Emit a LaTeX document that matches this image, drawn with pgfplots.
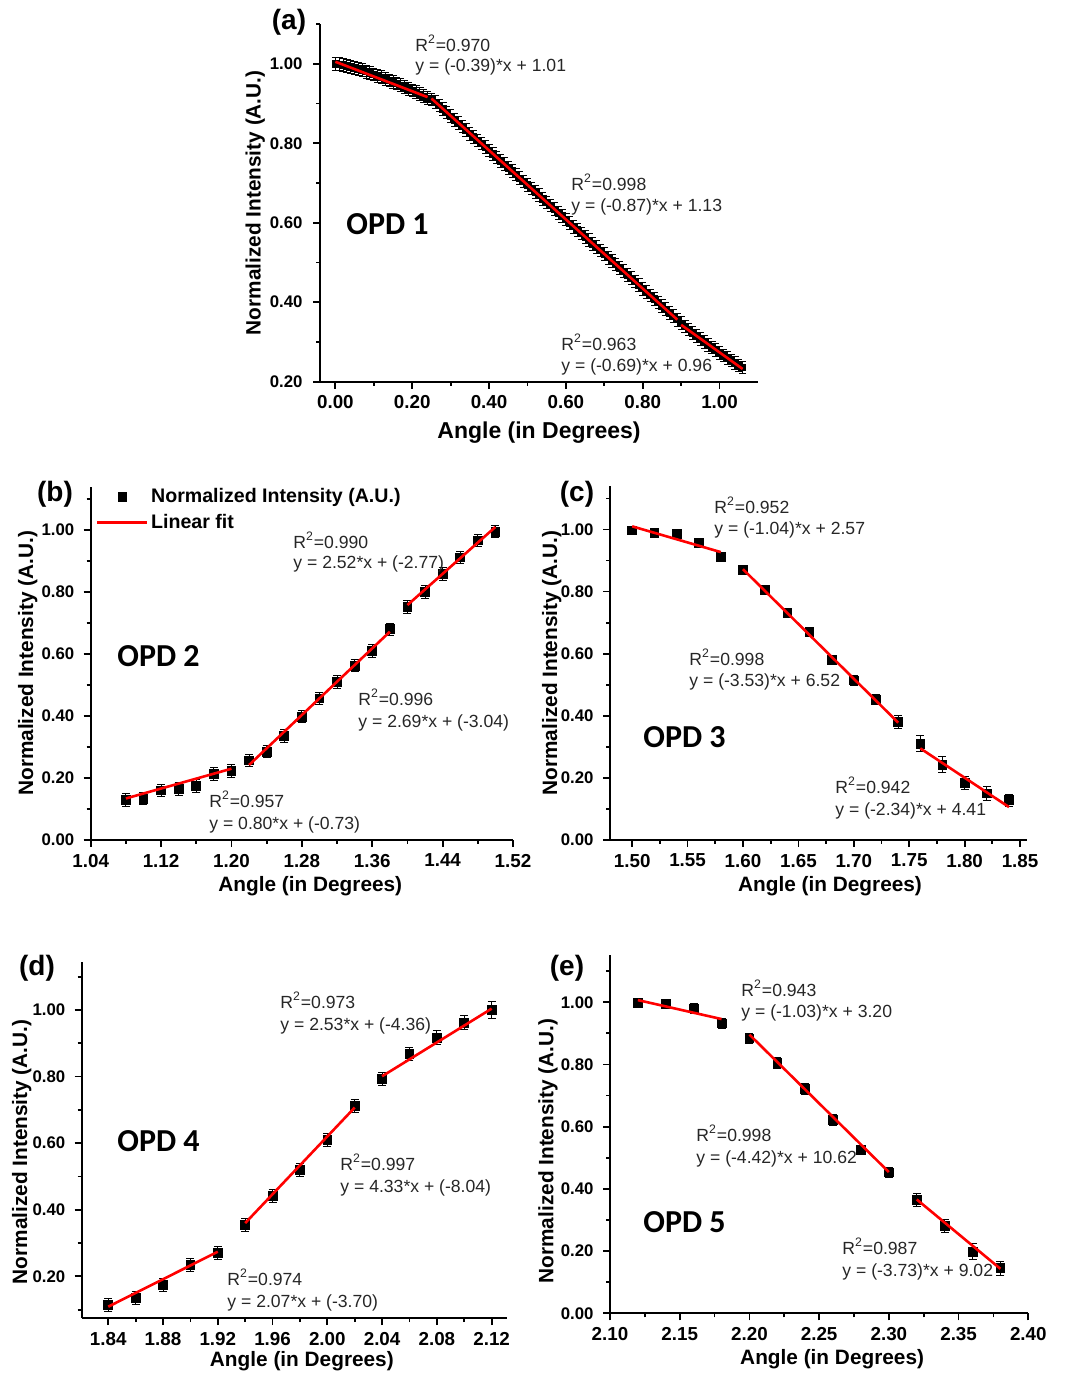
\documentclass[border=0pt]{standalone}
\usepackage{pgfplots}
\pgfplotsset{compat=1.18}
\usepackage{fontspec}
\setmainfont{Liberation Sans}
\newfontfamily\opdfont{Carlito}

\pgfplotsset{
 opd/.style={scale only axis, axis lines*=left, axis line style={line width=1.1pt, black},
   tick align=outside, major tick length=3.5pt, minor tick length=2pt,
   every tick/.style={black, line width=0.9pt},
   /pgf/number format/assume math mode=true,
   xticklabel style={font=\bfseries\fontsize{9.4}{11}\selectfont, /pgf/number format/fixed, /pgf/number format/fixed zerofill, /pgf/number format/precision=2},
   yticklabel style={font=\bfseries\fontsize{8.4}{10}\selectfont, xshift=-1.2pt, /pgf/number format/fixed, /pgf/number format/fixed zerofill, /pgf/number format/precision=2},
   label style={font=\bfseries\fontsize{10.4}{12}\selectfont},
   anchor=south west, clip=false},
 over/.style={scale only axis, hide axis, anchor=south west, clip=false},
 pa/.style={at={(160pt,496.15pt)}, width=219pt, height=178.85pt, xmin=-0.04, xmax=1.10, ymin=0.20, ymax=1.10},
 pb/.style={at={(45.35pt,267pt)}, width=211.15pt, height=176.65pt, xmin=1.04, xmax=1.52, ymin=0, ymax=1.14},
 pc/.style={at={(305pt,267pt)}, width=208.35pt, height=177pt, xmin=1.48, xmax=1.856, ymin=0, ymax=1.14},
 pd/.style={at={(40.85pt,28pt)}, width=212.5pt, height=178.15pt, xmin=1.8206, xmax=2.131, ymin=0.075, ymax=1.145},
 pe/.style={at={(305pt,30.35pt)}, width=209.15pt, height=179.15pt, xmin=2.10, xmax=2.40, ymin=0, ymax=1.152},
 datapl/.style={only marks, mark=square*, mark size=2.2pt, black, mark options={solid, fill=black},
   error bars/y dir=both,
   error bars/error bar style={line width=0.5pt, black},
   error bars/error mark options={rotate=90, mark size=2pt, line width=0.5pt, black}},
 fitpl/.style={red, line width=1.3pt, no marks, unbounded coords=jump},
 legsq/.style={legend image code/.code={\draw[mark repeat=2,mark phase=2,##1] plot coordinates {(0pt,0pt) (12.5pt,0pt) (25pt,0pt)};}},
 legln/.style={legend image code/.code={\draw[##1] (0pt,0pt) -- (25pt,0pt);}},
}
\tikzset{ann/.style={anchor=west, inner sep=0pt, text=black!85, font=\fontsize{8.8}{10}\selectfont}}

\begin{document}
\begin{tikzpicture}
\path[use as bounding box] (0,0) rectangle (539pt,687pt);

% ---------------- (a)
\begin{axis}[opd, pa,
  xtick={0,0.2,0.4,0.6,0.8,1.0}, minor xtick={0.1,0.3,0.5,0.7,0.9},
  ytick={0.2,0.4,0.6,0.8,1.0}, minor ytick={0.3,0.5,0.7,0.9,1.1},
  yticklabel style={xshift=-0.5pt},
  xlabel={Angle (in Degrees)}, ylabel={Normalized Intensity (A.U.)},
  xlabel style={at={(axis description cs:0.5,-0.141)}, anchor=center, font=\bfseries\fontsize{11.5}{13}\selectfont},
  ylabel style={at={(axis description cs:-0.148,0.5)}, anchor=center},
]
\addplot[datapl, mark size=1.6pt, error bars/y fixed=0.016,
  error bars/error mark options={rotate=90, mark size=1.8pt, line width=0.5pt, black}] table {
x y
0.00 1.000
0.01 0.999
0.02 0.997
0.03 0.995
0.04 0.992
0.05 0.990
0.06 0.987
0.07 0.984
0.08 0.980
0.09 0.977
0.10 0.973
0.11 0.969
0.12 0.966
0.13 0.962
0.14 0.958
0.15 0.954
0.16 0.950
0.17 0.946
0.18 0.942
0.19 0.937
0.20 0.933
0.21 0.928
0.22 0.923
0.23 0.918
0.24 0.913
0.25 0.910
0.26 0.903
0.27 0.895
0.28 0.886
0.29 0.877
0.30 0.868
0.31 0.859
0.32 0.850
0.33 0.842
0.34 0.833
0.35 0.824
0.36 0.816
0.37 0.807
0.38 0.799
0.39 0.790
0.40 0.782
0.41 0.773
0.42 0.764
0.43 0.756
0.44 0.747
0.45 0.738
0.46 0.730
0.47 0.721
0.48 0.712
0.49 0.704
0.50 0.695
0.51 0.686
0.52 0.678
0.53 0.669
0.54 0.660
0.55 0.651
0.56 0.643
0.57 0.634
0.58 0.625
0.59 0.617
0.60 0.608
0.61 0.599
0.62 0.590
0.63 0.582
0.64 0.573
0.65 0.564
0.66 0.556
0.67 0.547
0.68 0.538
0.69 0.530
0.70 0.521
0.71 0.512
0.72 0.504
0.73 0.495
0.74 0.486
0.75 0.478
0.76 0.469
0.77 0.460
0.78 0.452
0.79 0.443
0.80 0.434
0.81 0.425
0.82 0.417
0.83 0.408
0.84 0.399
0.85 0.391
0.86 0.382
0.87 0.373
0.88 0.365
0.89 0.356
0.90 0.347
0.91 0.339
0.92 0.331
0.93 0.323
0.94 0.315
0.95 0.307
0.96 0.300
0.97 0.293
0.98 0.286
0.99 0.279
1.00 0.272
1.01 0.266
1.02 0.259
1.03 0.253
1.04 0.247
1.05 0.241
1.06 0.236
};
\end{axis}
\begin{axis}[over, pa]
\addplot[fitpl] coordinates {(0,1.005) (0.24,0.916) (0.245,nan) (0.25,0.9125) (0.89,0.356) (0.895,nan) (0.90,0.343) (1.06,0.232)};
\end{axis}

% ---------------- (b)
\begin{axis}[opd, pb,
  xtick={1.04,1.12,1.20,1.28,1.36,1.44,1.52}, minor xtick={1.08,1.16,1.24,1.32,1.40,1.48},
  ytick={0,0.2,0.4,0.6,0.8,1.0}, minor ytick={0.1,0.3,0.5,0.7,0.9,1.1},
  xlabel={Angle (in Degrees)}, ylabel={Normalized Intensity (A.U.)},
  xlabel style={at={(axis description cs:0.52,-0.13)}, anchor=center},
  ylabel style={at={(axis description cs:-0.149,0.5)}, anchor=center},
  legend style={draw=none, fill=none, at={(axis description cs:0.012,1.004)}, anchor=north west,
    font=\bfseries\fontsize{9.8}{11}\selectfont, inner sep=0pt, row sep=2pt, nodes={inner sep=1.2pt}},
  legend cell align=left,
]
\addplot[datapl, error bars/y explicit, legsq]
 table[x=x, y=y, y error=e] {
x y e
1.08 0.129 0.02
1.10 0.133 0.02
1.12 0.160 0.02
1.14 0.164 0.02
1.16 0.174 0.02
1.18 0.213 0.02
1.20 0.223 0.02
1.22 0.257 0.02
1.24 0.285 0.02
1.26 0.335 0.02
1.28 0.398 0.02
1.30 0.457 0.02
1.32 0.510 0.02
1.34 0.563 0.02
1.36 0.610 0.02
1.38 0.680 0.02
1.40 0.752 0.02
1.42 0.800 0.02
1.44 0.858 0.02
1.46 0.912 0.02
1.48 0.967 0.02
1.50 0.995 0.02
};
\addlegendimage{fitpl, legln}
\legend{Normalized Intensity (A.U.), Linear fit}
\end{axis}
\begin{axis}[over, pb]
\addplot[fitpl] coordinates {(1.08,0.134) (1.20,0.23) (1.21,nan) (1.22,0.242) (1.38,0.672) (1.39,nan) (1.40,0.758) (1.50,1.01)};
\end{axis}

% ---------------- (c)
\begin{axis}[opd, pc,
  xtick={1.50,1.55,1.60,1.65,1.70,1.75,1.80,1.85}, minor xtick={1.525,1.575,1.625,1.675,1.725,1.775,1.825},
  ytick={0,0.2,0.4,0.6,0.8,1.0}, minor ytick={0.1,0.3,0.5,0.7,0.9,1.1},
  xlabel={Angle (in Degrees)}, ylabel={Normalized Intensity (A.U.)},
  xlabel style={at={(axis description cs:0.528,-0.13)}, anchor=center},
  ylabel style={at={(axis description cs:-0.14,0.5)}, anchor=center},
]
\addplot[datapl, error bars/y explicit] table[x=x, y=y, y error=e] {
x y e
1.50 0.997 0.01
1.52 0.990 0.01
1.54 0.985 0.01
1.56 0.958 0.012
1.58 0.912 0.012
1.60 0.870 0.015
1.62 0.806 0.015
1.64 0.731 0.015
1.66 0.670 0.015
1.68 0.580 0.015
1.70 0.514 0.015
1.72 0.452 0.015
1.74 0.380 0.022
1.76 0.310 0.025
1.78 0.243 0.025
1.80 0.184 0.022
1.82 0.150 0.022
1.84 0.128 0.02
};
\end{axis}
\begin{axis}[over, pc]
\addplot[fitpl] coordinates {(1.50,1.01) (1.58,0.927) (1.59,nan) (1.60,0.872) (1.74,0.378) (1.75,nan) (1.76,0.295) (1.84,0.106)};
\end{axis}

% ---------------- (d)
\begin{axis}[opd, pd,
  xtick={1.84,1.88,1.92,1.96,2.00,2.04,2.08,2.12}, minor xtick={1.86,1.90,1.94,1.98,2.02,2.06,2.10},
  ytick={0.2,0.4,0.6,0.8,1.0}, minor ytick={0.1,0.3,0.5,0.7,0.9,1.1},
  xlabel={Angle (in Degrees)}, ylabel={Normalized Intensity (A.U.)},
  xlabel style={at={(axis description cs:0.518,-0.121)}, anchor=center},
  ylabel style={at={(axis description cs:-0.141,0.466)}, anchor=center},
]
\addplot[datapl, error bars/y explicit] table[x=x, y=y, y error=e] {
x y e
1.84 0.115 0.02
1.86 0.135 0.02
1.88 0.175 0.02
1.90 0.235 0.02
1.92 0.270 0.02
1.94 0.355 0.02
1.96 0.442 0.02
1.98 0.520 0.02
2.00 0.610 0.02
2.02 0.712 0.02
2.04 0.792 0.02
2.06 0.867 0.02
2.08 0.917 0.022
2.10 0.962 0.022
2.12 1.000 0.025
};
\end{axis}
\begin{axis}[over, pd]
\addplot[fitpl] coordinates {(1.84,0.109) (1.92,0.274) (1.93,nan) (1.94,0.36) (2.02,0.707) (2.03,nan) (2.04,0.801) (2.12,1.004)};
\end{axis}

% ---------------- (e)
\begin{axis}[opd, pe,
  xtick={2.10,2.15,2.20,2.25,2.30,2.35,2.40}, minor xtick={2.125,2.175,2.225,2.275,2.325,2.375},
  ytick={0,0.2,0.4,0.6,0.8,1.0}, minor ytick={0.1,0.3,0.5,0.7,0.9,1.1},
  xlabel={Angle (in Degrees)}, ylabel={Normalized Intensity (A.U.)},
  xlabel style={at={(axis description cs:0.531,-0.128)}, anchor=center},
  ylabel style={at={(axis description cs:-0.148,0.453)}, anchor=center},
]
\addplot[datapl, error bars/y explicit] table[x=x, y=y, y error=e] {
x y e
2.12 0.997 0.015
2.14 0.995 0.015
2.16 0.980 0.015
2.18 0.932 0.015
2.20 0.884 0.015
2.22 0.806 0.018
2.24 0.721 0.018
2.26 0.622 0.018
2.28 0.525 0.015
2.30 0.453 0.015
2.32 0.364 0.02
2.34 0.280 0.02
2.36 0.198 0.025
2.38 0.145 0.022
};
\end{axis}
\begin{axis}[over, pe]
\addplot[fitpl] coordinates {(2.12,1.007) (2.18,0.946) (2.19,nan) (2.20,0.896) (2.30,0.454) (2.31,nan) (2.32,0.366) (2.38,0.143)};
\end{axis}

% ---------------- texts
\begin{scope}[x=0.5pt, y=-0.5pt, yshift=687pt]
\def\pl{\bfseries\fontsize{14}{16}\selectfont}
\def\op{\opdfont\bfseries\fontsize{16}{18}\selectfont}
% (a)
\node[font=\pl, inner sep=0pt] at (289,22) {(a)};
\node[ann] at (415,43) {R\textsuperscript{2}=0.970};
\node[ann] at (415,67) {y = (-0.39)*x + 1.01};
\node[ann] at (571,182) {R\textsuperscript{2}=0.998};
\node[ann] at (571,207) {y = (-0.87)*x + 1.13};
\node[ann] at (561,342) {R\textsuperscript{2}=0.963};
\node[ann] at (561,367) {y = (-0.69)*x + 0.96};
\node[anchor=west, inner sep=0pt, font=\op] at (346,224) {OPD 1};
% (b)
\node[font=\pl, inner sep=0pt] at (55,494) {(b)};
\node[ann] at (293,540) {R\textsuperscript{2}=0.990};
\node[ann] at (293,564) {y = 2.52*x + (-2.77)};
\node[ann] at (358,697) {R\textsuperscript{2}=0.996};
\node[ann] at (358,723) {y = 2.69*x + (-3.04)};
\node[ann] at (209,799) {R\textsuperscript{2}=0.957};
\node[ann] at (209,825) {y = 0.80*x + (-0.73)};
\node[anchor=west, inner sep=0pt, font=\op] at (117,656) {OPD 2};
% (c)
\node[font=\pl, inner sep=0pt] at (577,494) {(c)};
\node[ann] at (714,505) {R\textsuperscript{2}=0.952};
\node[ann] at (714,530) {y = (-1.04)*x + 2.57};
\node[ann] at (689,657) {R\textsuperscript{2}=0.998};
\node[ann] at (689,682) {y = (-3.53)*x + 6.52};
\node[ann] at (835,785) {R\textsuperscript{2}=0.942};
\node[ann] at (835,811) {y = (-2.34)*x + 4.41};
\node[anchor=west, inner sep=0pt, font=\op] at (643,737) {OPD 3};
% (d)
\node[font=\pl, inner sep=0pt] at (37,968) {(d)};
\node[ann] at (280,1000) {R\textsuperscript{2}=0.973};
\node[ann] at (280,1026) {y = 2.53*x + (-4.36)};
\node[ann] at (340,1162) {R\textsuperscript{2}=0.997};
\node[ann] at (340,1188) {y = 4.33*x + (-8.04)};
\node[ann] at (227,1277) {R\textsuperscript{2}=0.974};
\node[ann] at (227,1303) {y = 2.07*x + (-3.70)};
\node[anchor=west, inner sep=0pt, font=\op] at (117,1141) {OPD 4};
% (e)
\node[font=\pl, inner sep=0pt] at (567,968) {(e)};
\node[ann] at (741,988) {R\textsuperscript{2}=0.943};
\node[ann] at (741,1013) {y = (-1.03)*x + 3.20};
\node[ann] at (696,1133) {R\textsuperscript{2}=0.998};
\node[ann] at (696,1159) {y = (-4.42)*x + 10.62};
\node[ann] at (842,1246) {R\textsuperscript{2}=0.987};
\node[ann] at (842,1272) {y = (-3.73)*x + 9.02};
\node[anchor=west, inner sep=0pt, font=\op] at (643,1222) {OPD 5};
\end{scope}
\end{tikzpicture}
\end{document}
